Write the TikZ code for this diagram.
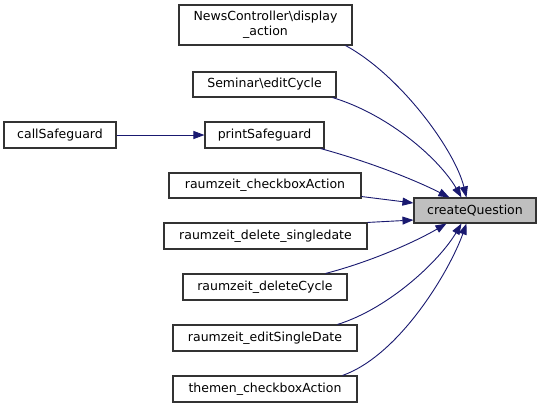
\documentclass[tikz,border=0pt]{standalone}
\usepackage{fontspec}
\setmainfont{DejaVu Sans}
\usetikzlibrary{arrows.meta}
\definecolor{edgeblue}{HTML}{191970}
\definecolor{boxline}{HTML}{333333}
\definecolor{cqfill}{HTML}{BFBFBF}
\begin{document}
\begin{tikzpicture}[x=1pt,y=-1pt,
  box/.style={draw=boxline, line width=1.1pt, fill=white, inner sep=0pt, align=center,
    font=\fontsize{12.5}{15}\selectfont},
  edge/.style={draw=edgeblue, line width=0.9pt, -{Triangle[length=11pt,width=8pt]}, shorten >=0pt}]
\useasboundingbox (0,0) rectangle (541,407);
\fill[white] (0,0) rectangle (541,407);

\node[box, minimum width=173pt, minimum height=40pt] (news) at (265.5,25) {NewsController\textbackslash display\\\_action};
\node[box, minimum width=143pt, minimum height=25pt] (sem) at (264.5,84.5) {Seminar\textbackslash editCycle};
\node[box, minimum width=112pt, minimum height=26pt] (call) at (60,135) {callSafeguard};
\node[box, minimum width=119pt, minimum height=26pt] (print) at (264.5,135) {printSafeguard};
\node[box, minimum width=192pt, minimum height=25pt] (chk) at (265,185.5) {raumzeit\_checkboxAction};
\node[box, minimum width=122pt, minimum height=25pt, fill=cqfill] (cq) at (475,210.5) {createQuestion};
\node[box, minimum width=203pt, minimum height=26pt] (sd) at (265.5,236) {raumzeit\_delete\_singledate};
\node[box, minimum width=164pt, minimum height=26pt] (dc) at (265,287) {raumzeit\_deleteCycle};
\node[box, minimum width=184pt, minimum height=26pt] (esd) at (265,338) {raumzeit\_editSingleDate};
\node[box, minimum width=184pt, minimum height=26pt] (them) at (265,389) {themen\_checkboxAction};

\draw[edge] (call) -- (print);
\draw[edge] ([xshift=-7pt]news.south east) .. controls (400,75) and (455,150) .. ([xshift=53pt]cq.north west);
\draw[edge] ([xshift=-4pt]sem.south east) .. controls (390,115) and (440,160) .. ([xshift=48pt]cq.north west);
\draw[edge] ([xshift=-4pt]print.south east) .. controls (370,162) and (415,180) .. ([xshift=36pt]cq.north west);
\draw[edge] ([yshift=2pt]chk.south east) -- ([yshift=7.5pt]cq.west);
\draw[edge] (sd.north east) -- ([yshift=-9.5pt]cq.west);
\draw[edge] ([xshift=-22pt]dc.north east) .. controls (370,262) and (415,242) .. ([xshift=33pt]cq.south west);
\draw[edge] ([xshift=-20pt]esd.north east) .. controls (390,308) and (440,260) .. ([xshift=48pt]cq.south west);
\draw[edge] ([xshift=-15pt]them.north east) .. controls (400,355) and (450,270) .. ([xshift=53pt]cq.south west);
\end{tikzpicture}
\end{document}
